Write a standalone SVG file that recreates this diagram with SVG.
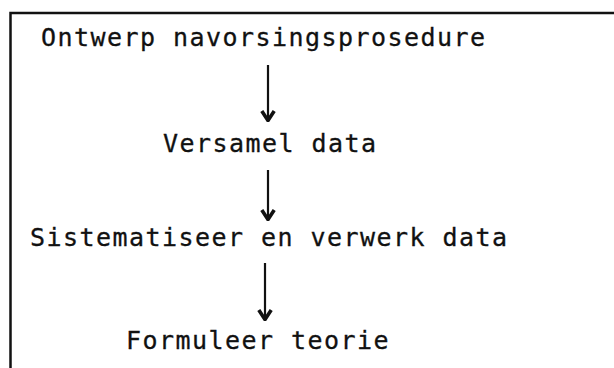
<svg xmlns="http://www.w3.org/2000/svg" width="614" height="368" viewBox="0 0 614 368">
  <style>
    .step { font-family: "DejaVu Sans Mono", "Liberation Mono", monospace; font-size: 25px; letter-spacing: 1.45px; fill: #111; stroke: #111; stroke-width: 0.3; }
    .frame { fill: none; stroke: #111; stroke-width: 2.5; }
    .flow { stroke: #111; stroke-width: 2.2; fill: none; }
  </style>
  <defs>
    <!-- heavy open chevron used as arrowhead (drawn pointing along +x) -->
    <marker id="head" viewBox="0 0 13 16" refX="12" refY="8" markerWidth="13" markerHeight="16" markerUnits="userSpaceOnUse" orient="auto">
      <path d="M2,1.8 L11.5,8 L2,14.2" fill="none" stroke="#111" stroke-width="3.6" stroke-linejoin="miter"/>
    </marker>
  </defs>
  <rect width="614" height="368" fill="#fff"/>
  <!-- open frame: top and left edges -->
  <path class="frame" d="M10.5,368 V13 H614"/>
  <g id="n1"><text class="step" x="41" y="46">Ontwerp navorsingsprosedure</text></g>
  <g id="n2"><text class="step" x="163" y="152">Versamel data</text></g>
  <g id="n3"><text class="step" x="30" y="246">Sistematiseer en verwerk data</text></g>
  <g id="n4"><text class="step" x="126" y="349">Formuleer teorie</text></g>
  <g id="connectors">
    <line class="flow" x1="268" y1="65" x2="268" y2="121" marker-end="url(#head)"/>
    <line class="flow" x1="268" y1="170" x2="268" y2="220" marker-end="url(#head)"/>
    <line class="flow" x1="265" y1="263" x2="265" y2="320" marker-end="url(#head)"/>
  </g>
</svg>
